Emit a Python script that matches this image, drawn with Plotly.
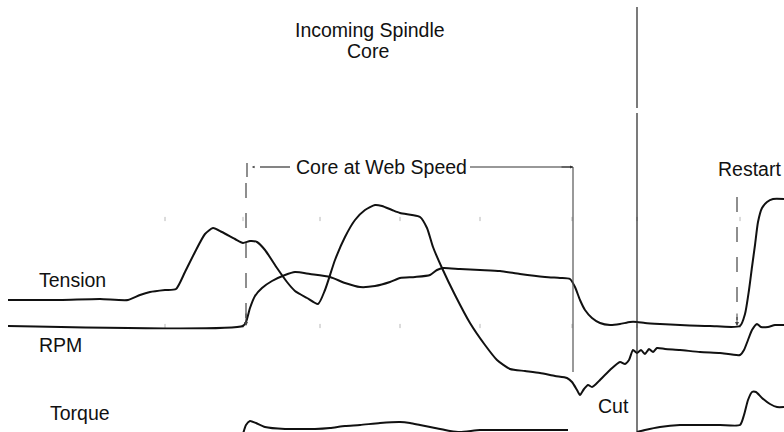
import plotly.graph_objects as go

# Time axis (arbitrary units) and signal deflection (measured downward on the chart sheet)
tension_t = [8, 60, 100, 128, 140, 150, 165, 176, 185, 195, 205, 213, 222, 235, 243, 250, 257, 265, 277, 287,
             295, 307, 318, 325, 335, 345, 355, 365, 375, 382, 392, 400, 412, 420, 427, 433, 442, 455, 470, 485,
             497, 510, 525, 540, 555, 567, 572, 577, 580, 584, 588, 592, 596, 600, 610, 620, 625, 629, 633, 637,
             641, 645, 649, 653, 657, 665, 680, 700, 720, 740, 744, 748, 752, 757, 761, 768, 775, 784]
tension_v = [300, 300, 299, 300, 295, 292, 290, 289, 272, 252, 234, 228, 232, 239, 243, 241, 242, 250, 268, 282,
             291, 298, 304, 290, 260, 237, 220, 210, 205, 206, 210, 213, 215, 217, 228, 247, 268, 295, 323, 345,
             360, 369, 371, 373, 376, 378, 382, 390, 395, 389, 385, 387, 384, 380, 370, 362, 364, 360, 350, 353,
             350, 354, 349, 352, 348, 349, 350, 352, 353, 355, 350, 340, 330, 324, 327, 327, 325, 325]

rpm_t = [8, 243, 246, 250, 255, 262, 272, 285, 295, 310, 330, 345, 360, 375, 390, 400, 415, 430, 437, 443, 460,
         480, 500, 520, 545, 560, 570, 575, 580, 585, 592, 600, 610, 620, 630, 637, 645, 660, 680, 710, 740, 745,
         749, 752, 755, 758, 762, 767, 773, 784]
rpm_v = [326, 326, 322, 308, 296, 288, 281, 275, 272, 274, 277, 283, 287, 286, 282, 278, 277, 275, 270, 268, 269,
         270, 271, 274, 277, 278, 279, 287, 300, 310, 318, 323, 325, 324, 322, 322, 323, 324, 325, 326, 326, 314,
         290, 267, 245, 222, 208, 202, 199, 199]

torque_t = [243, 246, 250, 256, 265, 285, 300, 315, 330, 345, 360, 380, 400, 410, 420, 435, 450, 460, 480, 500,
            540, 568, None, 637, 645, 660, 680, 700, 720, 740, 744, 748, 752, 756, 762, 770, 777, 784]
torque_v = [434, 425, 421, 423, 427, 429, 429, 429, 428, 426, 425, 423, 422, 423, 425, 428, 431, 432, 430, 430,
            430, 430, None, 432, 430, 427, 425, 425, 425, 425, 415, 400, 392, 392, 398, 404, 407, 407]

grid_t = [165, 243, 320, 400, 480, 572, 637, 740]
grid_levels = [219, 326]

# Event times
core_speed_start = 247
cut_time = 573
incoming_time = 637
restart_time = 737

FONT = "Liberation Sans, Arial, Helvetica, sans-serif"
INK = "#111111"
FS = 19.5

fig = go.Figure()

gx, gy = [], []
for lv in grid_levels:
    for t in grid_t:
        gx.append(t)
        gy.append(lv)
fig.add_trace(go.Scatter(x=gx, y=gy, mode="markers",
                         marker=dict(symbol="line-ns", size=3, line=dict(color="#b8b8b8", width=1)),
                         hoverinfo="skip", showlegend=False))

for t, v in [(tension_t, tension_v), (rpm_t, rpm_v), (torque_t, torque_v)]:
    fig.add_trace(go.Scatter(x=t, y=v, mode="lines", line=dict(color=INK, width=2, shape="spline", smoothing=0.6),
                             connectgaps=False, hoverinfo="skip", showlegend=False))

shapes = [
    # incoming spindle core line (with a small break)
    dict(type="line", x0=incoming_time, x1=incoming_time, y0=7, y1=108, line=dict(color="#222", width=1.2)),
    dict(type="line", x0=incoming_time, x1=incoming_time, y0=113, y1=432, line=dict(color="#222", width=1.2)),
    # cut line
    dict(type="line", x0=cut_time, x1=cut_time, y0=167, y1=372, line=dict(color="#555", width=1.2)),
    # core-at-web-speed bracket
    dict(type="line", x0=core_speed_start, x1=core_speed_start, y0=163, y1=177, line=dict(color="#444", width=1.2)),
    dict(type="line", x0=core_speed_start - 1, x1=core_speed_start - 1, y0=183, y1=320,
         line=dict(color="#444", width=1.2, dash="longdash")),
    dict(type="line", x0=260, x1=290, y0=167, y1=167, line=dict(color="#333", width=1.2)),
    dict(type="line", x0=470, x1=cut_time, y0=167, y1=167, line=dict(color="#333", width=1.2)),
    # restart marker
    dict(type="line", x0=restart_time, x1=restart_time, y0=197, y1=320,
         line=dict(color="#444", width=1.2, dash="longdash")),
]

annotations = [
    dict(x=370, y=30, text="Incoming Spindle", showarrow=False, font=dict(size=FS, family=FONT, color=INK)),
    dict(x=368, y=51, text="Core", showarrow=False, font=dict(size=FS, family=FONT, color=INK)),
    dict(x=381, y=167, text="Core at Web Speed", showarrow=False, font=dict(size=FS, family=FONT, color=INK)),
    dict(x=749, y=169, text="Restart", showarrow=False, font=dict(size=FS, family=FONT, color=INK)),
    dict(x=72, y=280, text="Tension", showarrow=False, font=dict(size=FS, family=FONT, color=INK)),
    dict(x=60, y=345, text="RPM", showarrow=False, font=dict(size=FS, family=FONT, color=INK)),
    dict(x=80, y=413, text="Torque", showarrow=False, font=dict(size=FS, family=FONT, color=INK)),
    dict(x=613, y=406, text="Cut", showarrow=False, font=dict(size=FS, family=FONT, color=INK)),
    # small arrowheads
    dict(x=core_speed_start - 1, y=326, ax=core_speed_start - 1, ay=312, xref="x", yref="y", axref="x", ayref="y",
         text="", showarrow=True, arrowhead=2, arrowsize=0.8, arrowwidth=1, arrowcolor="#444"),
    dict(x=restart_time, y=326, ax=restart_time, ay=312, xref="x", yref="y", axref="x", ayref="y",
         text="", showarrow=True, arrowhead=2, arrowsize=0.8, arrowwidth=1, arrowcolor="#444"),
    dict(x=cut_time, y=167, ax=560, ay=167, xref="x", yref="y", axref="x", ayref="y",
         text="", showarrow=True, arrowhead=2, arrowsize=0.6, arrowwidth=1, arrowcolor="#333"),
    dict(x=252, y=167, ax=256, ay=167, xref="x", yref="y", axref="x", ayref="y",
         text="", showarrow=True, arrowhead=2, arrowsize=0.5, arrowwidth=1, arrowcolor="#444"),
]

fig.update_layout(
    width=784, height=432,
    margin=dict(l=0, r=0, t=0, b=0),
    paper_bgcolor="white", plot_bgcolor="white",
    xaxis=dict(range=[0, 784], visible=False, fixedrange=True),
    yaxis=dict(range=[432, 0], visible=False, fixedrange=True),
    shapes=shapes, annotations=annotations,
    showlegend=False,
)

fig.write_html("out.html", config={"displayModeBar": False},
               post_script="document.body.style.margin='0';document.body.style.overflow='hidden';")
